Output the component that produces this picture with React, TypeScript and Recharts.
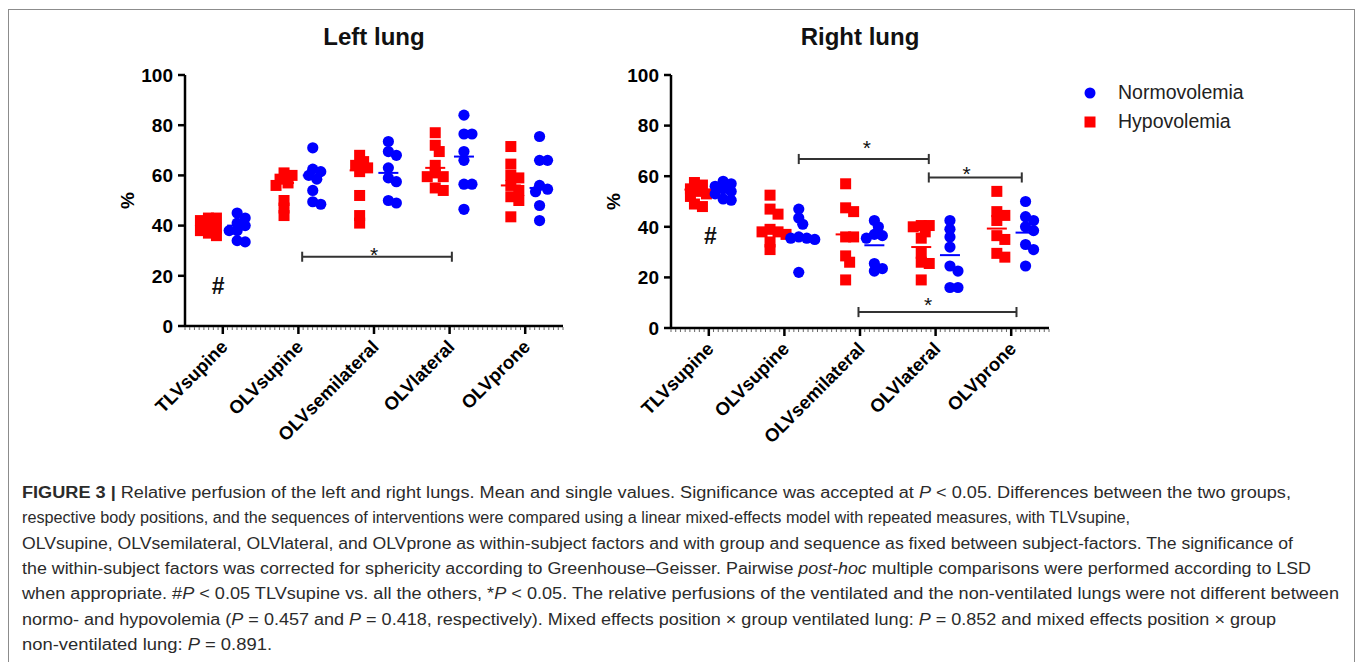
import React from "react"
import { Legend, ReferenceLine, Scatter, ScatterChart, XAxis, YAxis } from "recharts"

const categories = ["TLVsupine", "OLVsupine", "OLVsemilateral", "OLVlateral", "OLVprone"]
const yTicks = [0, 20, 40, 60, 80, 100]

// left lung, % perfusion, one list per position
const leftHypo = [
  [43, 43, 42, 40, 39, 38, 37, 36],
  [61, 60, 58.5, 57, 56, 50, 47, 44],
  [68, 65.5, 64, 63, 61.5, 52, 44, 41],
  [77, 72, 69.5, 64, 61, 59.5, 59.5, 55, 54],
  [71.5, 64.5, 60, 59, 56, 54, 51.5, 50, 43.5],
]
const leftNormo = [
  [45, 43, 41, 40, 38, 38, 34, 33.5],
  [71, 62.5, 61.5, 60, 58.5, 54, 49.5, 48.5],
  [73.5, 69.5, 68, 63, 59, 57.5, 50, 49],
  [84, 76.5, 76.5, 69.5, 66, 56.5, 56.5, 46.5],
  [75.5, 66, 66, 56, 54.5, 53.5, 48, 42],
]
const leftHypoMean = [40, 57, 62, 63, 56]
const leftNormoMean = [40, 60, 61, 67.5, 55]

// right lung
const rightHypo = [
  [57.5, 56.5, 55, 54, 53, 52, 49, 48],
  [52.5, 47, 45, 39, 38, 38, 37, 34, 31],
  [57, 47.5, 46, 36, 36, 28.5, 26, 19],
  [40.5, 40.5, 40, 38, 35.5, 29.5, 26, 25.5, 19],
  [54, 46, 44.5, 42.5, 36.5, 35, 29.5, 28],
]
const rightNormo = [
  [58, 57, 56, 55, 54, 53, 51, 50.5],
  [47, 43.5, 41, 36, 35.5, 35.5, 35, 22],
  [42.5, 40, 37, 36.5, 35.5, 25.5, 23.5, 22.5],
  [42.5, 39, 36, 32, 24.5, 22.5, 16, 16],
  [50, 44, 42.5, 40, 38.5, 33, 31, 24.5],
]
const rightHypoMean = [54.7, 38.5, 37, 32, 39.3]
const rightNormoMean = [54.7, 36.5, 32.7, 28.8, 37.7]

// significance brackets and marks (axis units)
const leftBars = [{ from: 2.05, to: 4.03, y: 27.6 }]
const leftMarks = [
  { x: 3, y: 30.3, text: "*" },
  { x: 0.94, y: 16.3, text: "#" },
]
const rightBars = [
  { from: 2.19, to: 3.91, y: 66.8 },
  { from: 3.91, to: 5.14, y: 59.5 },
  { from: 2.98, to: 5.07, y: 6.3 },
]
const rightMarks = [
  { x: 3.09, y: 73.1, text: "*" },
  { x: 4.41, y: 62.7, text: "*" },
  { x: 3.9, y: 11, text: "*" },
  { x: 1.02, y: 36.7, text: "#" },
]

const FONT = '"Liberation Sans", Arial, Helvetica, sans-serif'
const RED = "#ff0000"
const BLUE = "#0000ff"
const PLOT_TOP = 75
const CHART_H = 460
const X_AXIS_H = 120
const DODGE = 0.19
const CAP = 2
const minorTicks = Array.from({ length: 81 }, (_, i) => 0.5 + i / 16)

// simple beeswarm: spread points that would overlap too much, in pixels
function swarm(values: number[], ppu: number) {
  const order = values.map((_, i) => i).sort((a, b) => values[b] - values[a])
  const placed: { x: number; y: number }[] = []
  const out = values.map(() => 0)
  for (const i of order) {
    const y = values[i] * ppu
    for (let k = 0; k < 30; k++) {
      const c = k === 0 ? 0 : (k % 2 ? 1 : -1) * Math.ceil(k / 2) * 4
      if (placed.every((p) => Math.hypot(p.x - c, p.y - y) >= 7)) {
        out[i] = c
        placed.push({ x: c, y })
        break
      }
    }
  }
  return out
}

function buildPoints(groups: number[][], side: number, ppu: number) {
  return groups.flatMap((vals, i) => {
    const off = swarm(vals, ppu)
    return vals.map((v, j) => ({ x: i + 1 + side * DODGE, y: v, shift: off[j] }))
  })
}

const Square = (p: any) => (
  <rect x={p.cx + p.payload.shift - 5.5} y={p.cy - 5.5} width={11} height={11} fill={RED} />
)
const Dot = (p: any) => <circle cx={p.cx + p.payload.shift} cy={p.cy} r={5.6} fill={BLUE} />
const meanLine = (color: string) => (p: any) => (
  <line x1={p.cx - 10} x2={p.cx + 10} y1={p.cy} y2={p.cy} stroke={color} strokeWidth={2} />
)
const Mark = (p: any) =>
  p.payload.text === "#" ? (
    <text x={p.cx} y={p.cy + 8.5} textAnchor="middle" fontSize={23} fontWeight="bold" fill="#111" fontFamily={FONT}>
      #
    </text>
  ) : (
    <text x={p.cx} y={p.cy + 12} textAnchor="middle" fontSize={21} fill="#111" fontFamily={FONT}>
      *
    </text>
  )

const XTick = (p: any) => {
  const { x, y, payload } = p
  const v = payload.value
  if (Math.abs(v - Math.round(v)) > 1e-6) {
    return <line x1={x} x2={x} y1={y + 1} y2={y + 4} stroke="#666" strokeWidth={1} />
  }
  const tx = x + 6
  const ty = y + 22
  return (
    <g>
      <line x1={x} x2={x} y1={y} y2={y + 8} stroke="#000" strokeWidth={2.5} />
      <text
        x={tx}
        y={ty}
        transform={`rotate(-45 ${tx} ${ty})`}
        textAnchor="end"
        fontSize={18.5}
        fontWeight="bold"
        fill="#000"
        fontFamily={FONT}
      >
        {categories[Math.round(v) - 1]}
      </text>
    </g>
  )
}

const renderLegend = (props: any) => {
  const items = ["Normovolemia", "Hypovolemia"]
    .map((n) => (props.payload || []).find((it: any) => it.value === n))
    .filter(Boolean)
  return (
    <div style={{ fontFamily: FONT }}>
      {items.map((it: any) => (
        <div key={it.value} style={{ display: "flex", alignItems: "center", height: 29 }}>
          <svg width={24} height={14} style={{ marginRight: 14 }}>
            {it.value === "Normovolemia" ? (
              <circle cx={10} cy={7} r={5.5} fill={BLUE} />
            ) : (
              <rect x={4.5} y={1.5} width={11} height={11} fill={RED} />
            )}
          </svg>
          <span style={{ fontSize: 19.5, color: "#222" }}>{it.value}</span>
        </div>
      ))}
    </div>
  )
}

type PanelProps = {
  left: number
  width: number
  plotBottom: number
  hypo: number[][]
  normo: number[][]
  hypoMean: number[]
  normoMean: number[]
  bars: { from: number; to: number; y: number }[]
  marks: { x: number; y: number; text: string }[]
  legend?: boolean
}

function LungPanel({ left, width, plotBottom, hypo, normo, hypoMean, normoMean, bars, marks, legend }: PanelProps) {
  const ppu = (plotBottom - PLOT_TOP) / 100
  const hypoPts = buildPoints(hypo, -1, ppu)
  const normoPts = buildPoints(normo, 1, ppu)
  const hypoMeans = hypoMean.map((m, i) => ({ x: i + 1 - DODGE, y: m }))
  const normoMeans = normoMean.map((m, i) => ({ x: i + 1 + DODGE, y: m }))
  const line = { stroke: "#333", strokeWidth: 2, ifOverflow: "visible" as const }
  return (
    <div style={{ position: "absolute", left, top: 0 }}>
      <ScatterChart
        width={width}
        height={CHART_H}
        margin={{ top: PLOT_TOP, left: 100, right: width - 563, bottom: CHART_H - plotBottom - X_AXIS_H }}
        style={{ fontFamily: FONT }}
      >
        <XAxis
          type="number"
          dataKey="x"
          domain={[0.5, 5.5]}
          ticks={minorTicks}
          interval={0}
          height={X_AXIS_H}
          tickSize={0}
          tickMargin={0}
          tickLine={false}
          tick={<XTick />}
          axisLine={{ stroke: "#000", strokeWidth: 2.5 }}
          allowDataOverflow
        />
        <YAxis
          type="number"
          dataKey="y"
          domain={[0, 100]}
          ticks={yTicks}
          width={85}
          tickSize={7}
          tickMargin={5}
          axisLine={{ stroke: "#000", strokeWidth: 2.5 }}
          tickLine={{ stroke: "#000", strokeWidth: 2.5 }}
          tick={{ fill: "#000", fontSize: 19, fontWeight: 700, fontFamily: FONT }}
          allowDataOverflow
          label={{
            content: (lp: any) => {
              const vb = lp.viewBox
              const cx = vb.x + vb.width - 58
              const cy = vb.y + vb.height / 2
              return (
                <text
                  x={cx}
                  y={cy}
                  transform={`rotate(-90 ${cx} ${cy})`}
                  textAnchor="middle"
                  dominantBaseline="central"
                  fontSize={19}
                  fontWeight="bold"
                  fill="#000"
                  fontFamily={FONT}
                >
                  %
                </text>
              )
            },
          }}
        />
        {bars.flatMap((b, k) => [
          <ReferenceLine key={`b${k}`} segment={[{ x: b.from, y: b.y }, { x: b.to, y: b.y }]} {...line} />,
          <ReferenceLine key={`l${k}`} segment={[{ x: b.from, y: b.y - CAP }, { x: b.from, y: b.y + CAP }]} {...line} />,
          <ReferenceLine key={`r${k}`} segment={[{ x: b.to, y: b.y - CAP }, { x: b.to, y: b.y + CAP }]} {...line} />,
        ])}
        <Scatter name="Hypovolemia" data={hypoPts} shape={Square} fill={RED} legendType="square" isAnimationActive={false} />
        <Scatter name="Normovolemia" data={normoPts} shape={Dot} fill={BLUE} legendType="circle" isAnimationActive={false} />
        <Scatter name="hypoMean" data={hypoMeans} shape={meanLine(RED)} legendType="none" isAnimationActive={false} />
        <Scatter name="normoMean" data={normoMeans} shape={meanLine(BLUE)} legendType="none" isAnimationActive={false} />
        <Scatter name="marks" data={marks} shape={Mark} legendType="none" isAnimationActive={false} />
        {legend && (
          <Legend
            layout="vertical"
            align="center"
            verticalAlign="middle"
            wrapperStyle={{ left: 1080 - left, top: 78, width: 240, height: 60, bottom: "auto", right: "auto" }}
            content={renderLegend}
          />
        )}
      </ScatterChart>
    </div>
  )
}

type Seg = [string, "b" | "i" | "n"]
const captionLines: { segs: Seg[]; end: number }[] = [
  {
    segs: [
      ["FIGURE 3 | ", "b"],
      ["Relative perfusion of the left and right lungs. Mean and single values. Significance was accepted at ", "n"],
      ["P", "i"],
      [" < 0.05. Differences between the two groups,", "n"],
    ],
    end: 1291,
  },
  {
    segs: [["respective body positions, and the sequences of interventions were compared using a linear mixed-effects model with repeated measures, with TLVsupine,", "n"]],
    end: 1130,
  },
  {
    segs: [["OLVsupine, OLVsemilateral, OLVlateral, and OLVprone as within-subject factors and with group and sequence as fixed between subject-factors. The significance of", "n"]],
    end: 1293,
  },
  {
    segs: [
      ["the within-subject factors was corrected for sphericity according to Greenhouse\u2013Geisser. Pairwise ", "n"],
      ["post-hoc", "i"],
      [" multiple comparisons were performed according to LSD", "n"],
    ],
    end: 1311,
  },
  {
    segs: [
      ["when appropriate. #", "n"],
      ["P", "i"],
      [" < 0.05 TLVsupine vs. all the others, *", "n"],
      ["P", "i"],
      [" < 0.05. The relative perfusions of the ventilated and the non-ventilated lungs were not different between", "n"],
    ],
    end: 1339,
  },
  {
    segs: [
      ["normo- and hypovolemia (", "n"],
      ["P", "i"],
      [" = 0.457 and ", "n"],
      ["P", "i"],
      [" = 0.418, respectively). Mixed effects position \u00d7 group ventilated lung: ", "n"],
      ["P", "i"],
      [" = 0.852 and mixed effects position \u00d7 group", "n"],
    ],
    end: 1276,
  },
  {
    segs: [
      ["non-ventilated lung: ", "n"],
      ["P", "i"],
      [" = 0.891.", "n"],
    ],
    end: 272,
  },
]

export default function App() {
  return (
    <div
      style={{
        position: "fixed",
        left: 0,
        top: 0,
        width: 1358,
        height: 662,
        overflow: "hidden",
        background: "#fff",
        fontFamily: FONT,
      }}
    >
      <div
        style={{
          position: "absolute",
          left: 8,
          top: 9,
          width: 1345,
          height: 720,
          border: "1px solid #8c8c8c",
        }}
      />
      <div style={{ position: "absolute", left: 274, width: 200, top: 23, lineHeight: "28px", fontSize: 24, fontWeight: "bold", textAlign: "center", color: "#111" }}>
        Left lung
      </div>
      <div style={{ position: "absolute", left: 760, width: 200, top: 23, lineHeight: "28px", fontSize: 24, fontWeight: "bold", textAlign: "center", color: "#111" }}>
        Right lung
      </div>
      <LungPanel
        left={0}
        width={620}
        plotBottom={326}
        hypo={leftHypo}
        normo={leftNormo}
        hypoMean={leftHypoMean}
        normoMean={leftNormoMean}
        bars={leftBars}
        marks={leftMarks}
      />
      <LungPanel
        left={486}
        width={872}
        plotBottom={328}
        hypo={rightHypo}
        normo={rightNormo}
        hypoMean={rightHypoMean}
        normoMean={rightNormoMean}
        bars={rightBars}
        marks={rightMarks}
        legend
      />
      <svg width={1358} height={662} style={{ position: "absolute", left: 0, top: 0, pointerEvents: "none" }}>
        {captionLines.map((ln, k) => (
          <text
            key={k}
            x={22}
            y={498 + k * 25.3}
            fontSize={16}
            fill="#2b2b2b"
            fontFamily={FONT}
            textLength={ln.end - 22}
            lengthAdjust="spacingAndGlyphs"
          >
            {ln.segs.map(([t, s], j) => (
              <tspan key={j} fontWeight={s === "b" ? "bold" : "normal"} fontStyle={s === "i" ? "italic" : "normal"}>
                {t}
              </tspan>
            ))}
          </text>
        ))}
      </svg>
    </div>
  )
}
